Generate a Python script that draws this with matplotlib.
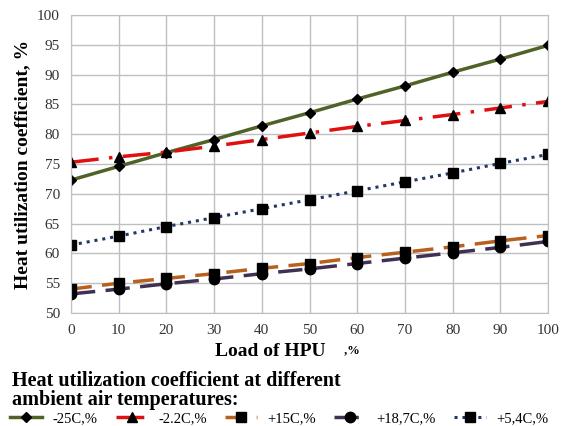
import matplotlib.pyplot as plt

plt.rcParams['font.family'] = ['Liberation Serif', 'DejaVu Serif']

# load of HPU, %
load = [0, 10, 20, 30, 40, 50, 60, 70, 80, 90, 100]

# heat utilization coefficient, %
t_m25 = [72.3, 74.6, 76.9, 79.1, 81.4, 83.6, 85.9, 88.1, 90.4, 92.6, 94.9]
t_m22 = [75.3, 76.2, 77.0, 78.0, 79.1, 80.2, 81.3, 82.3, 83.3, 84.4, 85.5]
t_p15 = [54.0, 55.0, 55.8, 56.6, 57.5, 58.3, 59.3, 60.2, 61.1, 62.1, 63.0]
t_p187 = [53.2, 54.0, 54.9, 55.7, 56.6, 57.4, 58.3, 59.2, 60.1, 61.0, 62.0]
t_p54 = [61.4, 62.9, 64.5, 66.0, 67.5, 69.0, 70.5, 72.0, 73.5, 75.1, 76.6]

names = ['-25C,%', '-2.2C,%', '+15C,%', '+18,7C,%', '+5,4C,%']

fig = plt.figure(figsize=(5.65, 4.26), dpi=100)
ax = fig.add_axes([0.1257, 0.2653, 0.8443, 0.6995])

ax.plot(load, t_m25, color='#4f6228', lw=2.5, ls='-', marker='D', ms=5.5,
        mfc='black', mec='black', label=names[0])
ax.plot(load, t_m22, color='#e01010', lw=2.5, ls=(0, (8, 3, 1, 3)), marker='^', ms=7.5,
        mfc='black', mec='black', label=names[1])
ax.plot(load, t_p15, color='#b8601e', lw=2.5, ls=(0, (6, 3)), marker='s', ms=7.5,
        mfc='black', mec='black', label=names[2])
ax.plot(load, t_p187, color='#403152', lw=2.5, ls=(0, (7, 3)), marker='o', ms=7.5,
        mfc='black', mec='black', label=names[3])
ax.plot(load, t_p54, color='#1f3864', lw=2.2, ls=(0, (1, 1.6)), marker='s', ms=7.5,
        mfc='black', mec='black', label=names[4])

ax.set_xlim(0, 100)
ax.set_ylim(50, 100)
ax.set_xticks(range(0, 101, 10))
ax.set_yticks(range(50, 101, 5))
ax.grid(True, color='#bfbfbf', lw=1)
ax.set_axisbelow(True)
for s in ax.spines.values():
    s.set_color('#bfbfbf')
ax.tick_params(length=0, labelsize=11, colors='#333333', pad=8)

ax.set_ylabel('Heat utilization coefficient, %', fontsize=14, fontweight='bold', labelpad=4)
fig.text(0.478, 0.174, 'Load of HPU', fontsize=14, fontweight='bold', ha='center', va='center')
fig.text(0.603, 0.178, ' ,%', fontsize=9, fontweight='bold', ha='left', va='center')

fig.text(0.021, 0.038, 'Heat utilization coefficient at different\nambient air temperatures:',
         fontsize=14.5, fontweight='bold', ha='left', va='bottom', linespacing=0.9)

fig.legend(loc='lower left', bbox_to_anchor=(0.0, -0.022), ncol=5, frameon=False,
           fontsize=10.5, handlelength=2.2, columnspacing=1.25, handletextpad=0.7,
           borderaxespad=0.3)

fig.savefig('out.png', dpi=100)
